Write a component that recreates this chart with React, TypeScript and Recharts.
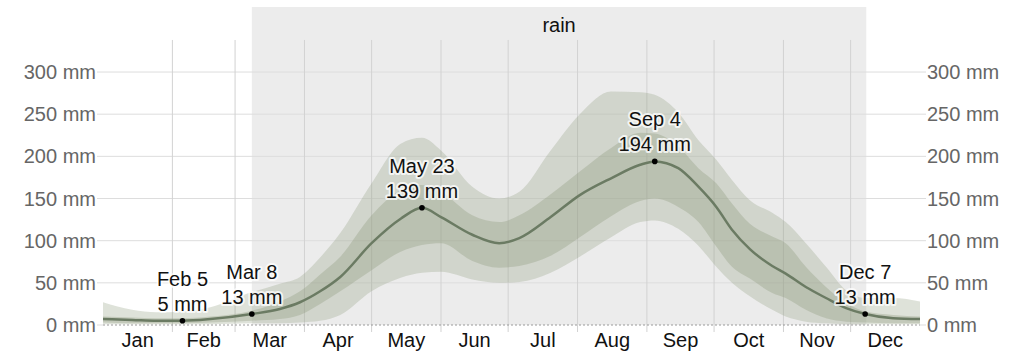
import React from 'react';
import {
  ComposedChart,
  Area,
  Line,
  XAxis,
  YAxis,
  CartesianGrid,
  ReferenceArea,
  ReferenceLine,
  ReferenceDot,
} from 'recharts';

// day of year for each sample (0 = Jan 1)
const DAYS = [0, 13, 24, 35.5, 48, 66.5, 79, 88, 97, 106, 120, 133, 142.5, 151, 165, 177, 186, 200, 213, 227, 240, 246.5, 257, 266, 274, 281, 289, 299, 305, 314, 323, 332, 340.5, 353, 365];

// 31-day rainfall, mm
const MEDIAN = [7, 6, 5, 5, 7, 13, 19, 27, 40, 57, 97, 126, 139, 128, 107, 97, 103, 128, 154, 174, 190, 194, 186, 164, 140, 113, 90, 70, 61, 45, 32, 20, 13, 8, 7];
const P90 = [27, 18, 15, 16, 21, 39, 49, 57, 80, 109, 168, 215, 222, 207, 164, 150, 158, 207, 250, 277, 276, 273, 252, 219, 196, 172, 148, 133, 122, 97, 69, 41, 32, 32, 28];
const P75 = [10, 9, 8, 8, 10, 17, 28, 40, 60, 81, 130, 160, 166, 158, 130, 122, 130, 155, 182, 210, 228, 227, 212, 186, 168, 144, 120, 105, 97, 69, 45, 26, 16, 12, 10];
const P25 = [3, 2, 2, 2, 3, 5, 7, 12, 25, 40, 65, 87, 95, 97, 76, 68, 70, 82, 104, 129, 147, 150, 140, 122, 93, 69, 55, 38, 32, 18, 8, 4, 3, 2, 2];
const P10 = [1, 1, 1, 1, 1, 2, 2, 3, 5, 12, 40, 56, 62, 63, 54, 50, 51, 62, 81, 104, 122, 124, 114, 94, 69, 50, 34, 18, 10, 4, 2, 1, 1, 1, 1];

const MONTHS = ['Jan', 'Feb', 'Mar', 'Apr', 'May', 'Jun', 'Jul', 'Aug', 'Sep', 'Oct', 'Nov', 'Dec'];
const MONTH_STARTS = [0, 31, 59, 90, 120, 151, 181, 212, 243, 273, 304, 334, 365];
const Y_TICKS = [0, 50, 100, 150, 200, 250, 300];

const HIGHLIGHT_DAYS = [35.5, 66.5, 142.5, 246.5, 340.5];
const HIGHLIGHT_DATES = ['Feb 5', 'Mar 8', 'May 23', 'Sep 4', 'Dec 7'];
const HIGHLIGHT_VALUES = [5, 13, 139, 194, 13];

// rainy season
const RAIN_START = 66.5;
const RAIN_END = 341;

const rows = DAYS.map((day, i) => ({
  day,
  median: MEDIAN[i],
  outer: [P10[i], P90[i]],
  inner: [P25[i], P75[i]],
}));

const monthMids = MONTHS.map((_, i) => (MONTH_STARTS[i] + MONTH_STARTS[i + 1]) / 2);

const FONT = 'Arial, "Liberation Sans", sans-serif';
const BAND = '#929f81';

const haloText = {
  stroke: '#fff',
  strokeWidth: 4,
  strokeOpacity: 0.75,
  strokeLinejoin: 'round' as const,
  paintOrder: 'stroke' as const,
};

const makeMarker = (date: string, value: number) => (props: any) => {
  const { cx, cy } = props;
  return (
    <g>
      <circle cx={cx} cy={cy} r={2.8} fill="#000" />
      <text x={cx} y={cy - 35} textAnchor="middle" fontSize={20} fill="#111" style={haloText}>
        {date}
      </text>
      <text x={cx} y={cy - 10} textAnchor="middle" fontSize={20} fill="#111" style={haloText}>
        {value} mm
      </text>
    </g>
  );
};

export default function App() {
  return (
    <div style={{ position: 'absolute', left: 0, top: 0, width: 1024, height: 356, background: '#fff', fontFamily: FONT }}>
      <ComposedChart width={1024} height={356} data={rows} margin={{ top: 7, right: 0, bottom: 0, left: 0 }}>
        <ReferenceArea
          yAxisId="left"
          x1={RAIN_START}
          x2={RAIN_END}
          y1={0}
          y2={377.1}
          fill="#ececec"
          fillOpacity={1}
          stroke="none"
          zIndex={-200}
          label={{ value: 'rain', position: 'insideTop', offset: 11, fill: '#111', fontSize: 20 }}
        />
        <CartesianGrid yAxisId="left" vertical={false} horizontalValues={[50, 100, 150, 200, 250, 300]} stroke="#dddddd" />
        {MONTH_STARTS.slice(1, 12).map((d) => (
          <ReferenceLine
            key={d}
            yAxisId="left"
            segment={[{ x: d, y: -8.3 }, { x: d, y: 338 }]}
            stroke="#d2d2d2"
            strokeWidth={1}
            zIndex={-90}
          />
        ))}
        <ReferenceLine yAxisId="left" y={0} stroke="#9a9a9a" strokeDasharray="2 2" strokeWidth={1} />
        <XAxis
          type="number"
          dataKey="day"
          domain={[0, 365]}
          ticks={monthMids}
          interval={0}
          tickFormatter={(v: number) => MONTHS[monthMids.indexOf(v)]}
          axisLine={false}
          tickLine={false}
          tickSize={0}
          tickMargin={1}
          height={24}
          tick={{ fill: '#111', fontSize: 20 }}
        />
        <YAxis
          yAxisId="left"
          orientation="left"
          width={103}
          domain={[-8.3, 377.1]}
          allowDataOverflow
          ticks={Y_TICKS}
          tickFormatter={(v: number) => `${v} mm`}
          axisLine={false}
          tickLine={{ stroke: '#dddddd' }}
          tickSize={6}
          tickMargin={1}
          tick={{ fill: '#666', fontSize: 20 }}
        />
        <YAxis
          yAxisId="right"
          orientation="right"
          width={104}
          domain={[-8.3, 377.1]}
          allowDataOverflow
          ticks={Y_TICKS}
          tickFormatter={(v: number) => `${v} mm`}
          axisLine={false}
          tickLine={{ stroke: '#dddddd' }}
          tickSize={6}
          tickMargin={1}
          tick={{ fill: '#666', fontSize: 20 }}
        />
        <Area
          yAxisId="left"
          type="monotone"
          dataKey="outer"
          stroke="none"
          fill={BAND}
          fillOpacity={0.3}
          isAnimationActive={false}
        />
        <Area
          yAxisId="left"
          type="monotone"
          dataKey="inner"
          stroke="none"
          fill={BAND}
          fillOpacity={0.36}
          isAnimationActive={false}
        />
        <Line
          yAxisId="left"
          type="monotone"
          dataKey="median"
          stroke="#6b7b63"
          strokeWidth={2.5}
          dot={false}
          activeDot={false}
          isAnimationActive={false}
        />
        {HIGHLIGHT_DAYS.map((d, i) => (
          <ReferenceDot
            key={d}
            yAxisId="left"
            x={d}
            y={HIGHLIGHT_VALUES[i]}
            r={3}
            shape={makeMarker(HIGHLIGHT_DATES[i], HIGHLIGHT_VALUES[i])}
          />
        ))}
      </ComposedChart>
    </div>
  );
}
